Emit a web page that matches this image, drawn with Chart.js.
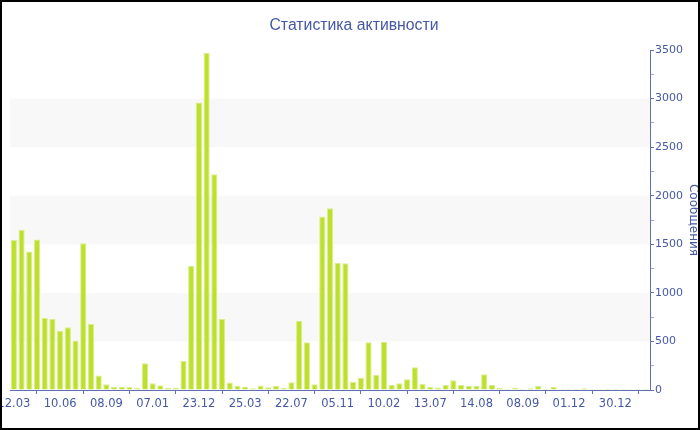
<!DOCTYPE html>
<html>
<head>
<meta charset="utf-8">
<script src="https://cdn.jsdelivr.net/npm/chart.js@4"></script>
<style>
  html, body { margin: 0; padding: 0; background: #fff; }
  .frame { width: 700px; height: 430px; box-sizing: border-box; border: 2px solid #000; }
  canvas { display: block; }
</style>
</head>
<body>
<div class="frame"><canvas id="chart" width="696" height="426"></canvas></div>
<script>
// every 6th category carries a date label
const tickLabels = ['12.03', '10.06', '08.09', '07.01', '23.12', '25.03', '22.07',
  '05.11', '10.02', '13.07', '14.08', '08.09', '01.12', '30.12']

const values = [
  1545, 1650, 1425, 1550, 740, 730, 610, 645, 510, 1510, 680,
  150, 60, 30, 30, 30, 22, 275, 70, 50, 20, 20,
  300, 1280, 2960, 3470, 2220, 730, 78, 40, 33, 18, 46,
  28, 40, 22, 79, 714, 491, 60, 1785, 1870, 1310, 1305,
  86, 127, 491, 154, 497, 51, 69, 110, 233, 62, 34,
  26, 51, 100, 51, 45, 45, 161, 51, 21, 10, 21,
  10, 17, 41, 10, 31, 10, 10, 10, 17, 10, 10,
  14, 14, 10, 10, 10, 14
]

// alternating shaded bands on the value axis
const bands = [[500, 1000], [1500, 2000], [2500, 3000]]

const labels = values.map((v, i) => (i % 6 === 0 ? tickLabels[i / 6] : ''))

const textColor = '#4658a6'
const axisColor = '#6070b4'

const bandPlugin = {
  id: 'bands',
  beforeDatasetsDraw(chart) {
    const { ctx, chartArea, scales } = chart
    ctx.save()
    ctx.fillStyle = '#f8f8f8'
    bands.forEach(([from, to]) => {
      const y1 = scales.y.getPixelForValue(to)
      const y2 = scales.y.getPixelForValue(from)
      ctx.fillRect(chartArea.left, y1, chartArea.right - chartArea.left, y2 - y1)
    })
    ctx.restore()
  },
}

new Chart(document.getElementById('chart'), {
  type: 'bar',
  data: {
    labels,
    datasets: [{
      label: 'Сообщения',
      data: values,
      backgroundColor: '#bde02e',
      borderColor: '#d9ee8a',
      borderWidth: 1,
      categoryPercentage: 1,
      barPercentage: 0.8,
    }],
  },
  options: {
    responsive: false,
    animation: false,
    layout: { autoPadding: false, padding: { left: 8, top: 0, right: 0, bottom: 0 } },
    plugins: {
      legend: { display: false },
      tooltip: { enabled: false },
      title: {
        display: true,
        text: 'Статистика активности',
        color: textColor,
        font: { family: "'Liberation Sans', sans-serif", size: 15.8, weight: 'normal' },
        padding: { top: 14.5, bottom: 14.54 },
      },
    },
    scales: {
      x: {
        offset: true,
        afterBuildTicks: (s) => { s.ticks = s.ticks.filter((t, i) => i % 6 === 0) },
        afterFit: (s) => {
          s.height = 38
          s.paddingLeft = 0
          s.paddingRight = 0
        },
        ticks: {
          autoSkip: false,
          maxRotation: 0,
          color: textColor,
          font: { family: "'DejaVu Sans', sans-serif", size: 11.5 },
          padding: 3,
        },
        grid: { drawOnChartArea: false, drawTicks: true, tickLength: 4, tickColor: '#6a74a0' },
        border: { color: axisColor, width: 1 },
      },
      y: {
        position: 'right',
        min: 0,
        max: 3500,
        afterFit: (s) => { s.width = 48 },
        ticks: {
          stepSize: 250,
          color: textColor,
          font: { family: "'DejaVu Sans', sans-serif", size: 11 },
          padding: 1,
          callback: (v) => (v % 500 === 0 ? v : ''),
        },
        grid: {
          drawOnChartArea: false,
          tickLength: 4,
          tickColor: (c) => (c.tick && c.tick.value % 500 === 0 ? axisColor : '#a0a8cc'),
        },
        border: { color: axisColor, width: 1 },
        title: {
          display: true,
          text: 'Сообщения',
          color: textColor,
          font: { family: "'DejaVu Sans', sans-serif", size: 12 },
          padding: { top: -2, bottom: 0 },
        },
      },
    },
  },
  plugins: [bandPlugin],
})
</script>
</body>
</html>
